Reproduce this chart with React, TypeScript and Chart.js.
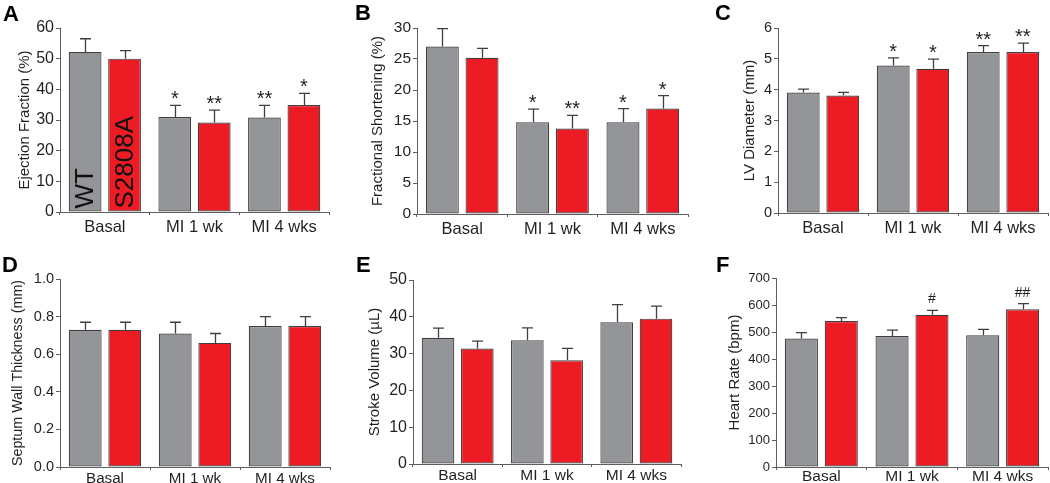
import React, { useEffect, useRef } from "react";
import { Chart, registerables } from "chart.js";
Chart.register(...registerables);

// ---------- DATA ----------
const categories = ["Basal", "MI 1 wk", "MI 4 wks"];
const seriesNames = ["WT", "S2808A"];

// A: Ejection Fraction (%)
const efWT = [52.2, 31.0, 30.8];
const efWTErr = [4.3, 3.8, 4.0];
const efKI = [50.0, 29.2, 34.9];
const efKIErr = [2.6, 4.0, 3.8];
const efWTMarks = ["", "*", "**"];
const efKIMarks = ["", "**", "*"];

// B: Fractional Shortening (%)
const fsWT = [27.0, 14.8, 14.8];
const fsWTErr = [2.9, 2.1, 2.2];
const fsKI = [25.2, 13.8, 17.0];
const fsKIErr = [1.5, 2.1, 2.1];
const fsWTMarks = ["", "*", "*"];
const fsKIMarks = ["", "**", "*"];

// C: LV Diameter (mm)
const lvWT = [3.91, 4.78, 5.22];
const lvWTErr = [0.11, 0.25, 0.21];
const lvKI = [3.81, 4.68, 5.22];
const lvKIErr = [0.1, 0.31, 0.29];
const lvWTMarks = ["", "*", "**"];
const lvKIMarks = ["", "*", "**"];

// D: Septum Wall Thickness (mm)
const swWT = [0.73, 0.71, 0.75];
const swWTErr = [0.04, 0.06, 0.05];
const swKI = [0.73, 0.66, 0.75];
const swKIErr = [0.04, 0.05, 0.05];

// E: Stroke Volume (µL)
const svWT = [34.3, 33.6, 38.5];
const svWTErr = [2.6, 3.4, 4.8];
const svKI = [31.4, 28.2, 39.5];
const svKIErr = [2.0, 3.2, 3.4];

// F: Heart Rate (bpm)
const hrWT = [476, 485, 488];
const hrWTErr = [22, 22, 22];
const hrKI = [541, 564, 584];
const hrKIErr = [12, 16, 21];
const hrWTMarks = ["", "", ""];
const hrKIMarks = ["", "#", "##"];

const noMarks = ["", "", ""];

// y ranges / tick steps
const efRange = [0, 60, 10];
const fsRange = [0, 30, 5];
const lvRange = [0, 6, 1];
const swRange = [0, 1, 0.2];
const svRange = [0, 50, 10];
const hrRange = [0, 700, 100];

// ---------- STYLE ----------
const FONT = "'Liberation Sans', Arial, Helvetica, sans-serif";
const GRAY = "#939598";
const RED = "#ed1c24";
const EDGE = "#3f3f3f";
const AXIS = "#5e5e5e";
const TEXT = "#231f20";

type PanelCfg = {
  letter: string;
  letterPos: [number, number];
  title: string;
  titleFont: number;
  titleOffset: number;
  tickFont: number;
  xFont: number;
  xPad: number;
  decimals: number;
  range: number[];
  wt: number[]; wtErr: number[]; wtMarks: string[];
  ki: number[]; kiErr: number[]; kiMarks: string[];
  markFont: number;
  inBarLabels?: boolean;
  x: number; y: number; w: number; h: number;
  area: { left: number; top: number; right: number; bottom: number };
};

const panels: PanelCfg[] = [
  {
    letter: "A", letterPos: [3, 21], title: "Ejection Fraction (%)", titleFont: 15, titleOffset: 16,
    tickFont: 16, xFont: 16.5, xPad: 3, decimals: 0, range: efRange,
    wt: efWT, wtErr: efWTErr, wtMarks: efWTMarks, ki: efKI, kiErr: efKIErr, kiMarks: efKIMarks,
    markFont: 20, inBarLabels: true,
    x: 0, y: 0, w: 350, h: 241, area: { left: 60, top: 28, right: 329, bottom: 212 },
  },
  {
    letter: "B", letterPos: [5, 20], title: "Fractional Shortening (%)", titleFont: 15, titleOffset: 19,
    tickFont: 15.5, xFont: 16.5, xPad: 3, decimals: 0, range: fsRange,
    wt: fsWT, wtErr: fsWTErr, wtMarks: fsWTMarks, ki: fsKI, kiErr: fsKIErr, kiMarks: fsKIMarks,
    markFont: 20,
    x: 350, y: 0, w: 350, h: 241, area: { left: 417, top: 28, right: 688, bottom: 214 },
  },
  {
    letter: "C", letterPos: [15, 20], title: "LV Diameter (mm)", titleFont: 15, titleOffset: 41,
    tickFont: 14.5, xFont: 16.5, xPad: 3, decimals: 0, range: lvRange,
    wt: lvWT, wtErr: lvWTErr, wtMarks: lvWTMarks, ki: lvKI, kiErr: lvKIErr, kiMarks: lvKIMarks,
    markFont: 20,
    x: 700, y: 0, w: 350, h: 241, area: { left: 778, top: 28, right: 1048, bottom: 213 },
  },
  {
    letter: "D", letterPos: [2, 31], title: "Septum Wall Thickness (mm)", titleFont: 14.3, titleOffset: 9,
    tickFont: 14.5, xFont: 15.2, xPad: 0, decimals: 1, range: swRange,
    wt: swWT, wtErr: swWTErr, wtMarks: noMarks, ki: swKI, kiErr: swKIErr, kiMarks: noMarks,
    markFont: 20,
    x: 0, y: 241, w: 350, h: 242, area: { left: 60, top: 279, right: 330, bottom: 467 },
  },
  {
    letter: "E", letterPos: [6, 31], title: "Stroke Volume (\u00b5L)", titleFont: 15, titleOffset: 16,
    tickFont: 16, xFont: 15.5, xPad: -1, decimals: 0, range: svRange,
    wt: svWT, wtErr: svWTErr, wtMarks: noMarks, ki: svKI, kiErr: svKIErr, kiMarks: noMarks,
    markFont: 20,
    x: 350, y: 241, w: 350, h: 242, area: { left: 413, top: 280, right: 681, bottom: 464 },
  },
  {
    letter: "F", letterPos: [16, 31], title: "Heart Rate (bpm)", titleFont: 15, titleOffset: 26,
    tickFont: 13, xFont: 15.5, xPad: -3, decimals: 0, range: hrRange,
    wt: hrWT, wtErr: hrWTErr, wtMarks: hrWTMarks, ki: hrKI, kiErr: hrKIErr, kiMarks: hrKIMarks,
    markFont: 14,
    x: 700, y: 241, w: 350, h: 242, area: { left: 776, top: 278, right: 1048, bottom: 467 },
  },
];

const overlayPlugin = {
  id: "overlay",
  afterDatasetsDraw(chart: any, _args: any, opts: any) {
    const cfg: PanelCfg = opts.cfg;
    const ctx = chart.ctx;
    const yScale = chart.scales.y;
    ctx.save();
    chart.data.datasets.forEach((ds: any, i: number) => {
      const meta = chart.getDatasetMeta(i);
      meta.data.forEach((el: any, j: number) => {
        const v = ds.data[j];
        const e = ds.errors[j];
        const yTop = el.y;
        const yErr = yScale.getPixelForValue(v + e);
        const x = Math.round(el.x) + 0.5;
        ctx.strokeStyle = EDGE;
        ctx.lineWidth = 1.3;
        ctx.beginPath();
        ctx.moveTo(x, yTop);
        ctx.lineTo(x, yErr);
        ctx.moveTo(x - 5.5, yErr);
        ctx.lineTo(x + 5.5, yErr);
        ctx.stroke();
        const mark = ds.marks[j];
        if (mark) {
          ctx.fillStyle = TEXT;
          ctx.font = `${cfg.markFont}px ${FONT}`;
          ctx.textAlign = "center";
          ctx.textBaseline = "alphabetic";
          const off = mark.startsWith("#") ? 7 : 0;
          ctx.fillText(mark, el.x, yErr - off);
        }
      });
    });
    if (cfg.inBarLabels) {
      ctx.fillStyle = "#111";
      ctx.font = `26px ${FONT}`;
      ctx.textAlign = "left";
      ctx.textBaseline = "middle";
      chart.data.datasets.forEach((ds: any, i: number) => {
        const el = chart.getDatasetMeta(i).data[0];
        ctx.save();
        ctx.translate(el.x + 1, el.base - 3);
        ctx.rotate(-Math.PI / 2);
        ctx.fillText(ds.label, 0, 0);
        ctx.restore();
      });
    }
    // panel letter
    ctx.fillStyle = "#000";
    ctx.font = `bold 22px ${FONT}`;
    ctx.textAlign = "left";
    ctx.textBaseline = "alphabetic";
    ctx.fillText(cfg.letter, cfg.letterPos[0], cfg.letterPos[1]);
    ctx.restore();
  },
};

function Panel({ cfg }: { cfg: PanelCfg }) {
  const ref = useRef<HTMLCanvasElement | null>(null);
  useEffect(() => {
    const a = cfg.area;
    const yW = a.left - cfg.x;
    const xH = cfg.y + cfg.h - a.bottom;
    const chart = new Chart(ref.current as HTMLCanvasElement, {
      type: "bar",
      data: {
        labels: categories,
        datasets: [
          {
            label: seriesNames[0], data: cfg.wt, errors: cfg.wtErr, marks: cfg.wtMarks,
            backgroundColor: GRAY, borderColor: EDGE, borderWidth: 1.2, borderSkipped: false,
            categoryPercentage: 0.88, barPercentage: 0.83,
          } as any,
          {
            label: seriesNames[1], data: cfg.ki, errors: cfg.kiErr, marks: cfg.kiMarks,
            backgroundColor: RED, borderColor: EDGE, borderWidth: 1.2, borderSkipped: false,
            categoryPercentage: 0.88, barPercentage: 0.83,
          } as any,
        ],
      },
      options: {
        responsive: false,
        animation: false,
        devicePixelRatio: 1,
        layout: {
          padding: { left: 0, top: a.top - cfg.y, right: cfg.x + cfg.w - a.right, bottom: 0 },
        },
        plugins: {
          legend: { display: false },
          tooltip: { enabled: false },
          overlay: { cfg },
        } as any,
        scales: {
          x: {
            offset: true,
            grid: { display: true, drawOnChartArea: false, drawTicks: true, tickLength: 3, color: AXIS, offset: true },
            border: { display: true, color: AXIS, width: 1 },
            ticks: { color: TEXT, font: { family: FONT, size: cfg.xFont }, padding: cfg.xPad, maxRotation: 0, autoSkip: false },
            afterFit: (s: any) => { s.height = xH; },
          },
          y: {
            min: cfg.range[0],
            max: cfg.range[1],
            grid: { display: true, drawOnChartArea: false, drawTicks: true, tickLength: 4, color: AXIS },
            border: { display: true, color: AXIS, width: 1 },
            ticks: {
              stepSize: cfg.range[2],
              color: TEXT,
              font: { family: FONT, size: cfg.tickFont },
              padding: 2,
              callback: (v: any) => Number(v).toFixed(cfg.decimals),
            },
            title: {
              display: true,
              text: cfg.title,
              color: TEXT,
              font: { family: FONT, size: cfg.titleFont },
              padding: { top: cfg.titleOffset, bottom: 0 },
            },
            afterFit: (s: any) => { s.width = yW; },
          },
        },
      },
      plugins: [overlayPlugin],
    });
    return () => chart.destroy();
  }, [cfg]);
  return (
    <canvas
      ref={ref}
      width={cfg.w}
      height={cfg.h}
      style={{ position: "absolute", left: cfg.x, top: cfg.y, width: cfg.w, height: cfg.h }}
    />
  );
}

export default function App() {
  return (
    <div style={{ position: "fixed", left: 0, top: 0, width: 1050, height: 483, background: "#fff", overflow: "hidden" }}>
      {panels.map((p) => (
        <Panel key={p.letter} cfg={p} />
      ))}
    </div>
  );
}
